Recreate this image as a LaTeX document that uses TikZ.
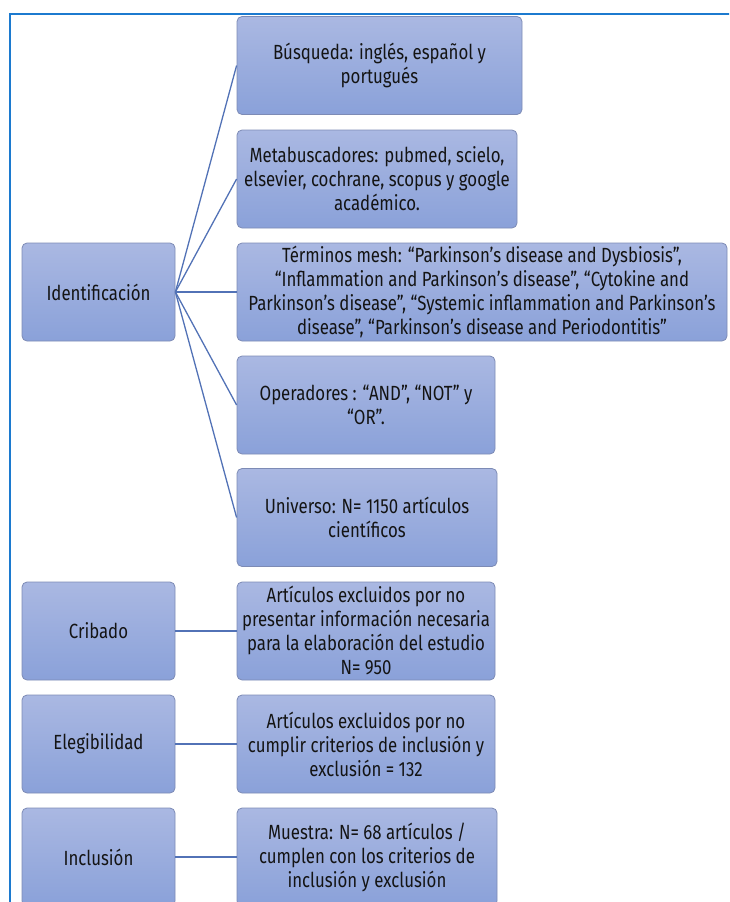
\documentclass[tikz,border=0pt]{standalone}
\usepackage{fontspec}
\setmainfont[FakeStretch=0.82]{Fira Sans}
\usepackage{tikz}

\definecolor{boxtop}{HTML}{AAB8E2}
\definecolor{boxbot}{HTML}{8AA1D9}
\definecolor{boxline}{HTML}{7D8BB5}
\definecolor{linkcol}{HTML}{5272B6}
\definecolor{framecol}{HTML}{1C7ACF}

\tikzset{
    phase/.style={rectangle, rounded corners=5pt, draw=boxline, line width=0.8pt,
        top color=boxtop, bottom color=boxbot, align=center, text=black!92,
        minimum height=98pt, inner sep=1pt,
        font=\fontsize{20.5}{24}\selectfont},
    link/.style={draw=linkcol, line width=1.3pt}
}

\begin{document}
\begin{tikzpicture}[x=1pt,y=-1pt]
    \useasboundingbox (0,0) rectangle (729,902);
    \clip (0,0) rectangle (729,902);
    % frame round the figure
    \draw[framecol, line width=2pt] (10,920) -- (10,14) -- (760,14);
    % left column: phases
    \node[phase, minimum width=153pt] (ident) at (98.5,292) {Identificación};
    \node[phase, minimum width=153pt] (crib) at (98.5,631) {Cribado};
    \node[phase, minimum width=153pt] (eleg) at (98.5,744) {Elegibilidad};
    \node[phase, minimum width=153pt] (incl) at (98.5,857) {Inclusión};
    % right column: identification details
    \node[phase, minimum width=285pt] (busq) at (379.5,65.5) {Búsqueda: inglés, español y\\ portugués};
    \node[phase, minimum width=280pt] (meta) at (377,179) {Metabuscadores: pubmed, scielo,\\ elsevier, cochrane, scopus y google\\ académico.};
    \node[phase, minimum width=490pt] (term) at (482,292) {Términos mesh: “Parkinson’s disease and Dysbiosis”,\\ “Inflammation and Parkinson’s disease”, “Cytokine and\\ Parkinson’s disease”, “Systemic inflammation and Parkinson’s\\ disease”, “Parkinson’s disease and Periodontitis”};
    \node[phase, minimum width=258pt] (oper) at (366,405) {Operadores : “AND”, “NOT” y\\ “OR”.};
    \node[phase, minimum width=260pt] (univ) at (367,517.5) {Universo: N= 1150 artículos\\ científicos};
    % right column: results
    \node[phase, minimum width=258pt] (cribtxt) at (366,631) {Artículos excluidos por no\\ presentar información necesaria\\ para la elaboración del estudio\\ N= 950};
    \node[phase, minimum width=258pt] (elegtxt) at (366,744) {Artículos excluidos por no\\ cumplir criterios de inclusión y\\ exclusión = 132};
    \node[phase, minimum width=260pt] (incltxt) at (367,857) {Muestra: N= 68 artículos /\\ cumplen con los criterios de\\ inclusión y exclusión};
    % connectors
    \foreach \t in {busq,meta,term,oper,univ}
        \draw[link] (ident.east) -- (\t.west);
    \draw[link] (crib) -- (cribtxt);
    \draw[link] (eleg) -- (elegtxt);
    \draw[link] (incl) -- (incltxt);
\end{tikzpicture}
\end{document}
